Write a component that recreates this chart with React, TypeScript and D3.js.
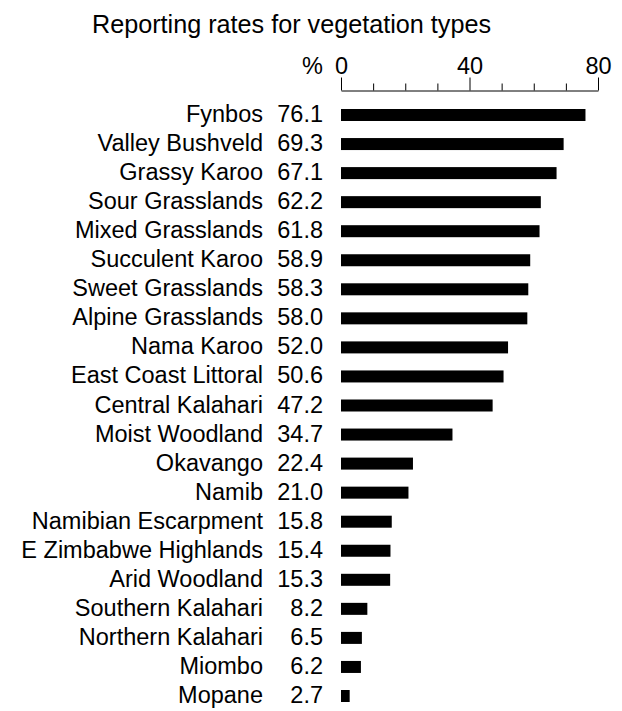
import React, { useEffect, useRef } from "react";
import * as d3 from "d3";

const vegTypes = [
  "Fynbos",
  "Valley Bushveld",
  "Grassy Karoo",
  "Sour Grasslands",
  "Mixed Grasslands",
  "Succulent Karoo",
  "Sweet Grasslands",
  "Alpine Grasslands",
  "Nama Karoo",
  "East Coast Littoral",
  "Central Kalahari",
  "Moist Woodland",
  "Okavango",
  "Namib",
  "Namibian Escarpment",
  "E Zimbabwe Highlands",
  "Arid Woodland",
  "Southern Kalahari",
  "Northern Kalahari",
  "Miombo",
  "Mopane",
];

const reportingRates = [
  76.1, 69.3, 67.1, 62.2, 61.8, 58.9, 58.3, 58.0, 52.0, 50.6, 47.2, 34.7, 22.4, 21.0, 15.8, 15.4, 15.3, 8.2, 6.5, 6.2,
  2.7,
];

const majorTicks = [0, 40, 80];
const minorTicks = [10, 20, 30, 50, 60, 70];

const FONT = "'Liberation Sans', Arial, Helvetica, sans-serif";

function renderChart(el: SVGSVGElement) {
  const width = 622;
  const height = 711;
  const fontSize = 23.5;

  const svg = d3.select(el);
  svg.selectAll("*").remove();
  svg.attr("width", width).attr("height", height);

  const xScale = d3.scaleLinear().domain([0, 80]).range([341, 598]);
  const yScale = d3.scalePoint().domain(vegTypes).range([115, 696]);
  const barHeight = 12;
  const axisY = 90.5;

  // title
  svg
    .append("text")
    .attr("x", 92)
    .attr("y", 33)
    .attr("font-family", FONT)
    .attr("font-size", 25.2)
    .attr("fill", "#000")
    .text("Reporting rates for vegetation types");

  // minor ticks
  svg
    .append("g")
    .attr("transform", "translate(0," + axisY + ")")
    .call(d3.axisTop(xScale).tickValues(minorTicks).tickSize(7).tickFormat(() => ""))
    .call((g) => g.select(".domain").remove());

  // major ticks + labels
  const xAxis = svg
    .append("g")
    .attr("transform", "translate(0," + axisY + ")")
    .call(d3.axisTop(xScale).tickValues(majorTicks).tickSize(13).tickSizeOuter(0).tickPadding(4));
  xAxis.selectAll("text").attr("font-family", FONT).attr("font-size", fontSize).attr("fill", "#000");
  xAxis.selectAll("line, path").attr("stroke", "#000");

  svg
    .append("text")
    .attr("x", 323)
    .attr("y", 74)
    .attr("text-anchor", "end")
    .attr("font-family", FONT)
    .attr("font-size", fontSize)
    .text("%");

  const rows = svg
    .append("g")
    .selectAll("g")
    .data(vegTypes)
    .enter()
    .append("g");

  rows
    .append("text")
    .attr("x", 263)
    .attr("y", (d) => yScale(d) + 7)
    .attr("text-anchor", "end")
    .attr("font-family", FONT)
    .attr("font-size", fontSize)
    .text((d) => d);

  rows
    .append("text")
    .attr("x", 323)
    .attr("y", (d) => yScale(d) + 7)
    .attr("text-anchor", "end")
    .attr("font-family", FONT)
    .attr("font-size", fontSize)
    .text((d, i) => reportingRates[i].toFixed(1));

  rows
    .append("rect")
    .attr("x", xScale(0))
    .attr("y", (d) => yScale(d) - barHeight / 2)
    .attr("width", (d, i) => xScale(reportingRates[i]) - xScale(0))
    .attr("height", barHeight)
    .attr("fill", "#000");
}

const App: React.FC = () => {
  const ref = useRef<SVGSVGElement>(null);
  useEffect(() => {
    if (ref.current) renderChart(ref.current);
  }, []);
  return <svg ref={ref} style={{ position: "absolute", left: 0, top: 0, background: "#fff" }} />;
};

export default App;
